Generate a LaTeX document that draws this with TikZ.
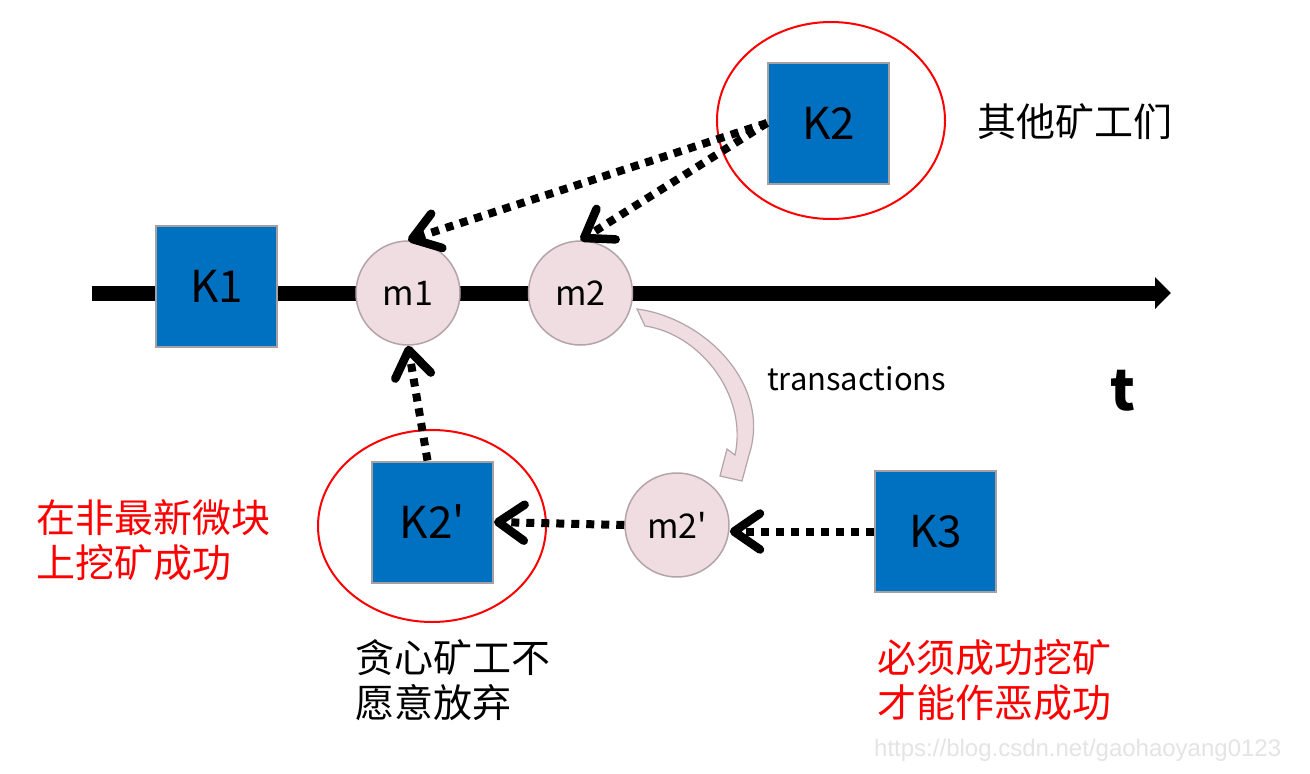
\documentclass[tikz,border=0pt]{standalone}
\usepackage{fontspec}
\setmainfont{Noto Sans CJK SC}
\newfontfamily\wmfont{Liberation Sans}
\usetikzlibrary{arrows.meta,shapes.geometric}
\definecolor{kblue}{HTML}{0070C0}
\definecolor{kgray}{HTML}{A6A0A2}
\definecolor{mpink}{HTML}{F0DDE2}
\definecolor{mborder}{HTML}{B4A4A9}
\definecolor{wmgray}{HTML}{E4E4E4}
\begin{document}
\begin{tikzpicture}[x=1pt,y=-1pt,
  block/.style={draw=kgray,line width=2pt,fill=kblue,minimum size=121pt,inner sep=0pt,font=\fontsize{44}{50}\selectfont},
  msg/.style={circle,draw=mborder,line width=1.5pt,fill=mpink,minimum size=104pt,inner sep=0pt,font=\fontsize{34}{40}\selectfont},
  ring/.style={ellipse,draw=red,line width=2pt,inner sep=0pt},
  dots/.style={line width=8pt,dash pattern=on 8pt off 7pt,-{Straight Barb[length=26pt,width=36pt,line width=8.5pt,round]}},
  cn/.style={font=\fontsize{39}{45}\selectfont,align=left,inner sep=0pt,anchor=west},
]
\useasboundingbox (0,0) rectangle (1310,774);
\fill[white] (0,0) rectangle (1310,774);

% timeline
\coordinate (tstart) at (92,293);
\coordinate (tend) at (1171,293);
\draw[line width=15pt,-{Triangle[length=16pt,width=31pt]}] (tstart) -- (tend);

% transactions curved arrow
\filldraw[fill=mpink,draw=mborder,line width=1.2pt]
  (637,309) .. controls (705,318) and (772,385) .. (749,455)
  -- (742,481) -- (720,476) -- (727,449) -- (735,455)
  .. controls (748,395) and (700,334) .. (645,326) -- cycle;

% nodes
\node[block] (K1) at (216.5,286) {K1};
\node[msg] (m1) at (408,293) {m1};
\node[msg] (m2) at (580.5,293) {m2};
\node[block] (K2) at (828.5,123) {K2};
\node[ring,minimum width=228pt,minimum height=197pt] (K2ring) at (831,120.5) {};
\node[block] (K2p) at (432.5,522) {K2\textquotesingle};
\node[ring,minimum width=228pt,minimum height=192pt] (K2pring) at (432,526) {};
\node[msg] (m2p) at (677,525) {m2\textquotesingle};
\node[block] (K3) at (935.5,531.5) {K3};

% dotted arrows
\draw[dots] (K2.west) -- (m1.north);
\draw[dots] (K2.west) -- (m2.north);
\draw[dots] ([xshift=-5pt]K2p.north) -- (m1.south);
\draw[dots] (m2p.west) -- (K2p.east);
\coordinate (m2pin) at (K3.west -| m2p.east);
\draw[dots] (K3.west) -- (m2pin);

% labels
\node[cn,anchor=west] (others) at (977,122) {其他矿工们};
\node[font=\fontsize{31}{34}\selectfont,anchor=base west,inner sep=0pt] (tx) at (767,390) {transactions};
\node[font=\fontsize{56}{60}\selectfont\bfseries,anchor=base,inner sep=0pt] (tlabel) at (1123,410) {t};
\node[cn,text=red] (left) at (36,540) {在非最新微块\\上挖矿成功};
\node[cn] (greedy) at (355,680) {贪心矿工不\\愿意放弃};
\node[cn,text=red] (must) at (877,680) {必须成功挖矿\\才能作恶成功};
\node[font=\wmfont\fontsize{24}{28}\selectfont,text=wmgray,anchor=west,inner sep=0pt] (wm) at (874,750) {https://blog.csdn.net/gaohaoyang0123};
\end{tikzpicture}
\end{document}
